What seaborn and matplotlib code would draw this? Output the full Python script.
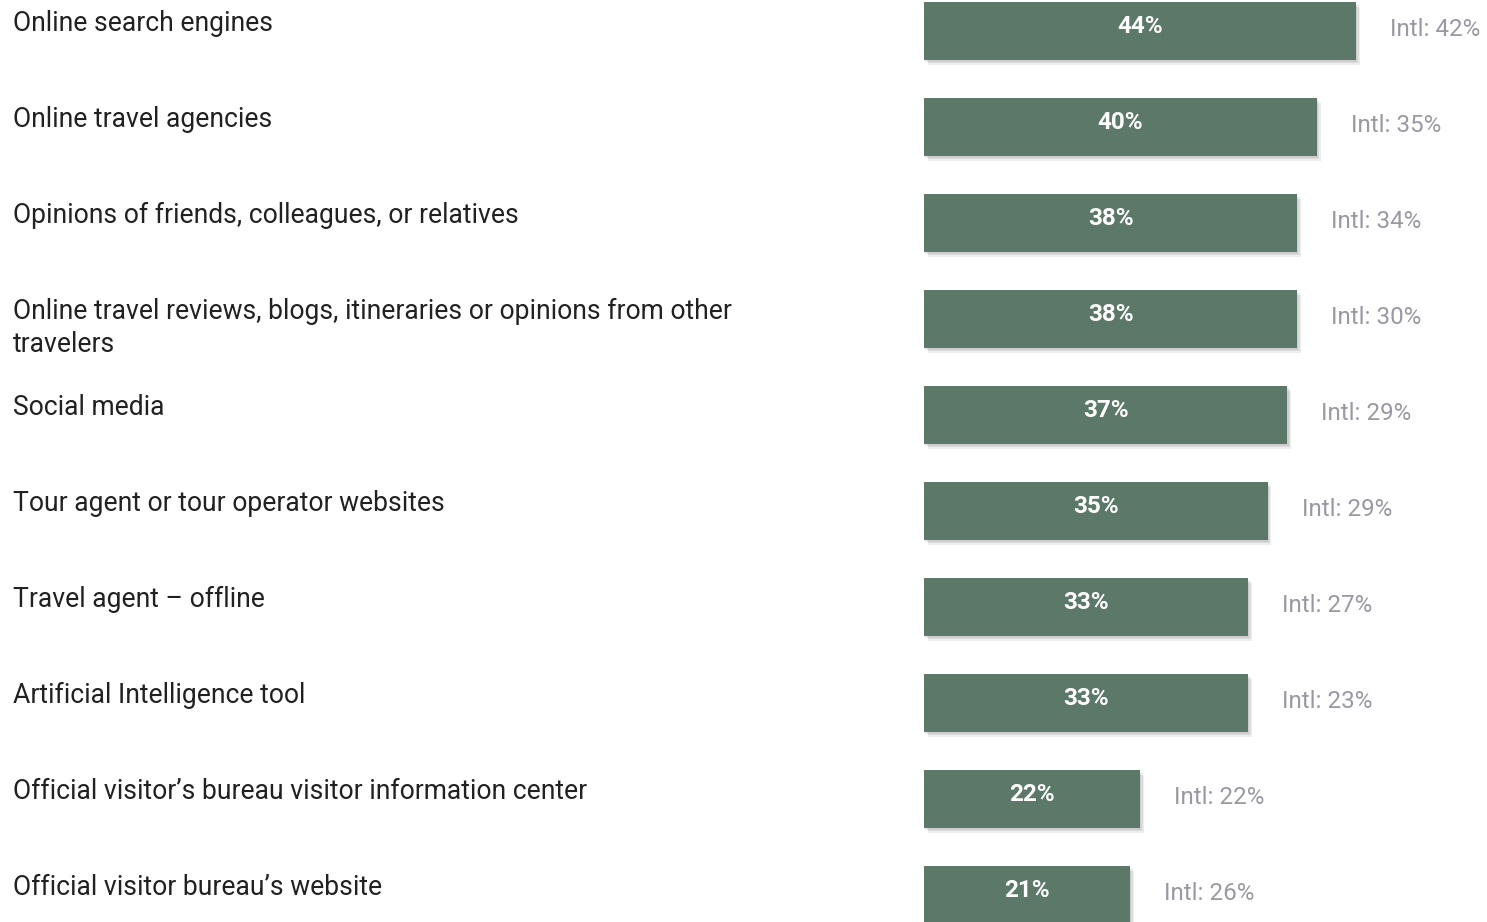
import matplotlib
matplotlib.use("Agg")
import matplotlib.pyplot as plt
import matplotlib.patheffects as pe
from matplotlib.transforms import blended_transform_factory, offset_copy
import pandas as pd
import seaborn as sns

sources = [
    "Online search engines",
    "Online travel agencies",
    "Opinions of friends, colleagues, or relatives",
    "Online travel reviews, blogs, itineraries or opinions from other\ntravelers",
    "Social media",
    "Tour agent or tour operator websites",
    "Travel agent \u2013 offline",
    "Artificial Intelligence tool",
    "Official visitor\u2019s bureau visitor information center",
    "Official visitor bureau\u2019s website",
]
share = [44, 40, 38, 38, 37, 35, 33, 33, 22, 21]
intl_share = [42, 35, 34, 30, 29, 29, 27, 23, 22, 26]

BAR = "#5b7868"
TEXT = "#212121"
GREY = "#9a99a3"

sns.set_theme(style="white")
plt.rcParams["font.family"] = ["Roboto", "DejaVu Sans"]

df = pd.DataFrame({"source": sources, "share": share, "intl": intl_share})

W, H, DPI = 1487, 922, 100
fig = plt.figure(figsize=(W / DPI, H / DPI), dpi=DPI)
ax = fig.add_axes([924 / W, 0, 563 / W, 1])

sns.barplot(data=df, x="share", y="source", orient="h", color=BAR,
            saturation=1, width=0.604, ax=ax)

ax.set_xlim(0, 563 / 9.82)
ax.set_ylim((H - 31) / 96, -31 / 96)
ax.axis("off")

# soft drop shadow under each bar
shadow = [pe.SimplePatchShadow(offset=(o * 0.9, -o * 1.2), shadow_rgbFace="black", alpha=0.07)
          for o in (1.0, 2.0, 3.0)]
for p in ax.patches:
    p.set_path_effects(shadow + [pe.Normal()])
    p.set_linewidth(0)

for i, (v, iv) in enumerate(zip(share, intl_share)):
    ax.annotate(f"{v}%", xy=(v / 2, i), xytext=(0, 3.4), textcoords="offset points",
                ha="center", va="center", color="white", fontsize=17.5, fontweight="bold")
    ax.annotate(f"Intl: {iv}%", xy=(v, i), xytext=(34 * 0.72, 1.0), textcoords="offset points",
                ha="left", va="center", color=GREY, fontsize=17.4)

trans = blended_transform_factory(fig.transFigure, ax.transData)
for i, s in enumerate(sources):
    fig.text(13 / W, i - 0.302, s, transform=offset_copy(trans, fig=fig, x=0, y=-5.7, units="points"),
             ha="left", va="top", color=TEXT, fontsize=19.1, linespacing=1.27)

fig.savefig("out.png", dpi=DPI)
